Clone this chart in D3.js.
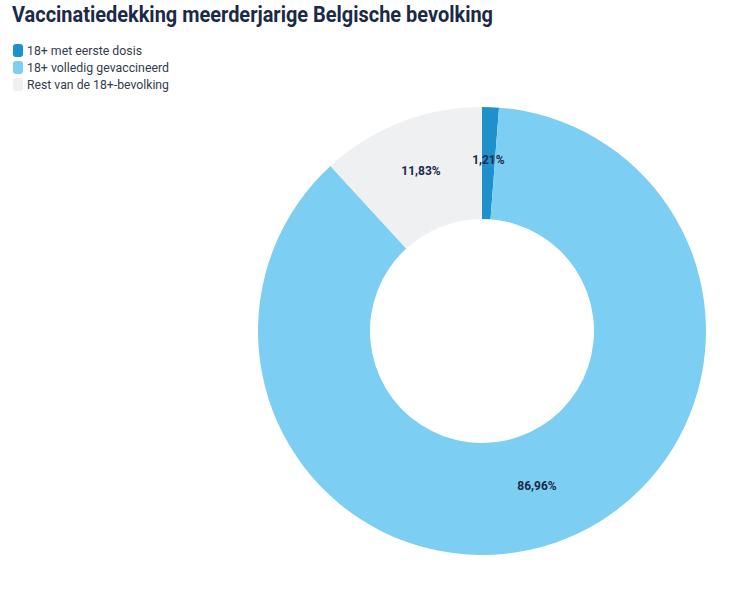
<!DOCTYPE html>
<html>
<head>
<meta charset="utf-8">
<script src="https://cdn.jsdelivr.net/npm/d3@7"></script>
<style>
  body { margin: 0; background: #fff; }
  text { font-family: Roboto, "Open Sans", sans-serif; }
</style>
</head>
<body>
<svg id="chart" width="747" height="592"></svg>
<script>
// DATA
var categories = ['18+ met eerste dosis', '18+ volledig gevaccineerd', 'Rest van de 18+-bevolking'];
var values = [1.21, 86.96, 11.83];
var labels = ['1,21%', '86,96%', '11,83%'];
var colors = ['#1e90cc', '#7dcef3', '#eff0f2'];

var svg = d3.select('#chart');

// Title (condensed look)
svg.append('text')
   .attr('x', 12)
   .attr('y', 22)
   .attr('textLength', 481)
   .attr('lengthAdjust', 'spacingAndGlyphs')
   .style('font-size', '22px')
   .style('font-weight', 700)
   .style('fill', '#1b2a47')
   .text('Vaccinatiedekking meerderjarige Belgische bevolking');

// Legend
var legendWidths = [115, 142, 142];
var legend = svg.append('g').attr('transform', 'translate(13,44)');
var item = legend.selectAll('g')
   .data(categories)
   .join('g')
   .attr('transform', function(d, i) { return 'translate(0,' + (i * 17) + ')'; });
item.append('rect')
   .attr('width', 10)
   .attr('height', 13)
   .attr('rx', 3)
   .style('fill', function(d, i) { return colors[i]; });
item.append('text')
   .attr('x', 14)
   .attr('y', 11)
   .attr('textLength', function(d, i) { return legendWidths[i]; })
   .attr('lengthAdjust', 'spacingAndGlyphs')
   .style('font-size', '13.5px')
   .style('font-weight', 400)
   .style('fill', '#333d4e')
   .text(function(d) { return d; });

// Donut
var cx = 482, cy = 331, outerR = 224, innerR = 112;
var pie = d3.pie().sort(null).value(function(d) { return d; });
var arc = d3.arc().innerRadius(innerR).outerRadius(outerR);
var arcs = pie(values);

var g = svg.append('g').attr('transform', 'translate(' + cx + ',' + cy + ')');
g.selectAll('path')
   .data(arcs)
   .join('path')
   .attr('d', arc)
   .style('fill', function(d, i) { return colors[i]; });

g.selectAll('text.lbl')
   .data(arcs)
   .join('text')
   .attr('class', 'lbl')
   .attr('transform', function(d) {
       var c = arc.centroid(d);
       return 'translate(' + c[0] + ',' + c[1] + ')';
   })
   .attr('text-anchor', 'middle')
   .attr('dy', '0.05em')
   .style('font-size', '12px')
   .style('font-weight', 700)
   .style('fill', '#1b2a47')
   .text(function(d, i) { return labels[i]; });
</script>
</body>
</html>
